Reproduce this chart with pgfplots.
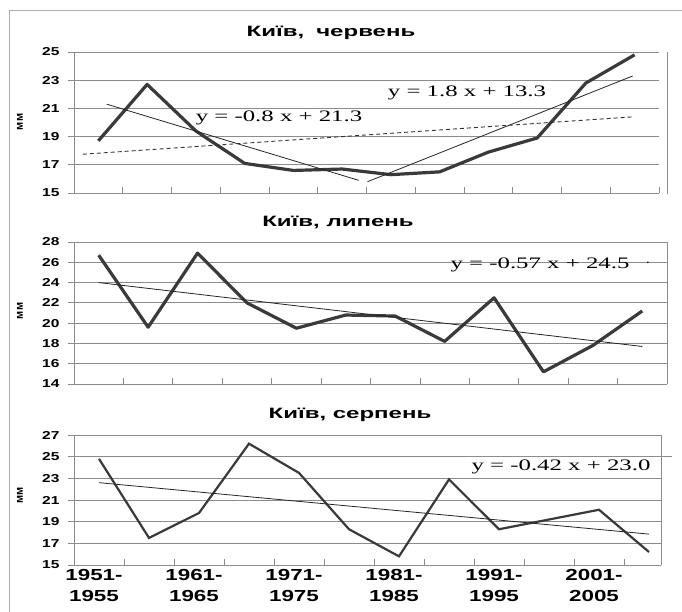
\documentclass[border=0pt]{standalone}
\usepackage{pgfplots}
\pgfplotsset{compat=1.18}
\usepackage{graphicx}
\usepackage{fontspec}
\setmainfont{Liberation Sans}
\newfontfamily\eqfont{Liberation Serif}
\definecolor{gridc}{HTML}{8C8C8C}
\definecolor{datac}{HTML}{3A3A3A}
\newcommand{\sx}[1]{\scalebox{1.35}[1]{#1}}
\newcommand{\slab}[1]{\scalebox{1.4}[1]{#1}}
\newcommand{\lab}[2]{\slab{#1-}\\\slab{#2}}
\pgfplotsset{
  panel/.style={
    scale only axis, anchor=north west,
    xmin=0.5, xmax=12.5,
    axis x line*=bottom, axis y line*=left,
    axis line style={-, draw=gridc, line width=0.8pt},
    xtick={0.5,1.5,...,12.5}, xticklabels={},
    xtick align=inside, ytick align=outside,
    major tick length=6pt,
    tick style={draw=gridc, line width=0.8pt},
    ymajorgrids, grid style={draw=gridc, line width=0.8pt},
    yticklabel style={font=\bfseries\fontsize{11.5}{11.5}\selectfont, xshift=-5pt},
    yticklabel={\sx{\pgfmathprintnumber{\tick}}},
    /pgf/number format/assume math mode=true,
    clip=false,
  },
}
\begin{document}
\begin{tikzpicture}
\useasboundingbox (0,0) rectangle (682pt,-612pt);
\fill[white] (0,0) rectangle (682pt,-612pt);
\draw[gridc!70, line width=0.8pt] (9pt,-612pt) -- (9pt,-10pt) -- (682pt,-10pt);

% ---------- June ----------
\begin{axis}[panel, at={(74pt,-52pt)}, width=585pt, height=141pt,
  ymin=15, ymax=25, ytick={15,17,...,25}]
\addplot[datac, line width=3.2pt, line join=round] coordinates {
 (1,18.7) (2,22.7) (3,19.4) (4,17.1) (5,16.6) (6,16.7)
 (7,16.3) (8,16.5) (9,17.9) (10,18.9) (11,22.8) (12,24.8)};
\addplot[black!85, line width=0.8pt] coordinates {(1.17,21.3) (6.34,15.9)};
\addplot[black!85, line width=0.8pt] coordinates {(6.52,15.8) (11.96,23.3)};
\addplot[black!80, line width=0.9pt, dash pattern=on 4pt off 3pt] coordinates {(0.68,17.75) (11.96,20.4)};
\end{axis}
\draw[gridc, line width=0.8pt] (667pt,-52pt) -- (667pt,-194pt);

% ---------- July ----------
\begin{axis}[panel, at={(74pt,-242pt)}, width=593pt, height=142pt,
  ymin=14, ymax=28, ytick={14,16,...,28}]
\addplot[datac, line width=3.2pt, line join=round] coordinates {
 (1,26.7) (2,19.6) (3,26.9) (4,22.0) (5,19.5) (6,20.8)
 (7,20.7) (8,18.2) (9,22.5) (10,15.2) (11,17.8) (12,21.2)};
\addplot[black!85, line width=0.8pt] coordinates {(1,24.0) (12,17.7)};
\draw[gridc, line width=0.8pt] (rel axis cs:1,0) -- (rel axis cs:1,1);
\end{axis}

% ---------- August ----------
\begin{axis}[panel, at={(74pt,-435pt)}, width=587pt, height=130pt,
  xmax=12.24, xtick={0.5,1.5,...,11.5,12.24},
  ymin=15, ymax=27, ytick={15,17,...,27},
  extra x ticks={1,3,5,7,9,11},
  extra x tick labels={\lab{1951}{1955},\lab{1961}{1965},\lab{1971}{1975},
    \lab{1981}{1985},\lab{1991}{1995},\lab{2001}{2005}},
  extra x tick style={tick style={draw=none},
    xticklabel style={align=center, font=\bfseries\fontsize{16}{20.5}\selectfont, yshift=-1pt, xshift=-5pt}}]
\addplot[datac, line width=2.2pt] coordinates {
 (1,24.8) (2,17.5) (3,19.8) (4,26.2) (5,23.5) (6,18.3)
 (7,15.8) (8,22.9) (9,18.3) (10,19.2) (11,20.1) (12,16.2)};
\addplot[black!85, line width=0.8pt] coordinates {(1,22.6) (12,17.85)};
\draw[gridc, line width=0.8pt] (rel axis cs:1,0) -- (rel axis cs:1,1);
\draw[gridc, line width=0.8pt] (axis cs:12.24,25) -- ([xshift=11pt]axis cs:12.24,25);
\end{axis}

% titles, axis names, trend equations
\node[font=\bfseries\fontsize{15}{15}\selectfont] at (331pt,-33pt) {\scalebox{1.6}[1]{Київ,\enspace червень}};
\node[font=\bfseries\fontsize{15}{15}\selectfont] at (338pt,-222pt) {\scalebox{1.6}[1]{Київ, липень}};
\node[font=\bfseries\fontsize{15}{15}\selectfont] at (350pt,-415pt) {\scalebox{1.6}[1]{Київ, серпень}};
\node[rotate=90, font=\bfseries\fontsize{11}{11}\selectfont] at (20pt,-122pt) {мм};
\node[rotate=90, font=\bfseries\fontsize{11}{11}\selectfont] at (20pt,-311pt) {мм};
\node[rotate=90, font=\bfseries\fontsize{11}{11}\selectfont] at (20pt,-495pt) {мм};
\node[font=\eqfont\fontsize{16}{16}\selectfont] at (279pt,-118pt) {\scalebox{1.55}[1]{y = -0.8 x + 21.3}};
\node[font=\eqfont\fontsize{16}{16}\selectfont] at (467pt,-93pt) {\scalebox{1.55}[1]{y = 1.8 x + 13.3}};
\node[font=\eqfont\fontsize{16}{16}\selectfont] at (540pt,-265pt) {\scalebox{1.55}[1]{y = -0.57 x + 24.5}};
\node[font=\eqfont\fontsize{14}{14}\selectfont] at (648pt,-265pt) {·};
\node[font=\eqfont\fontsize{16}{16}\selectfont] at (561pt,-467pt) {\scalebox{1.55}[1]{y = -0.42 x + 23.0}};
\end{tikzpicture}
\end{document}
